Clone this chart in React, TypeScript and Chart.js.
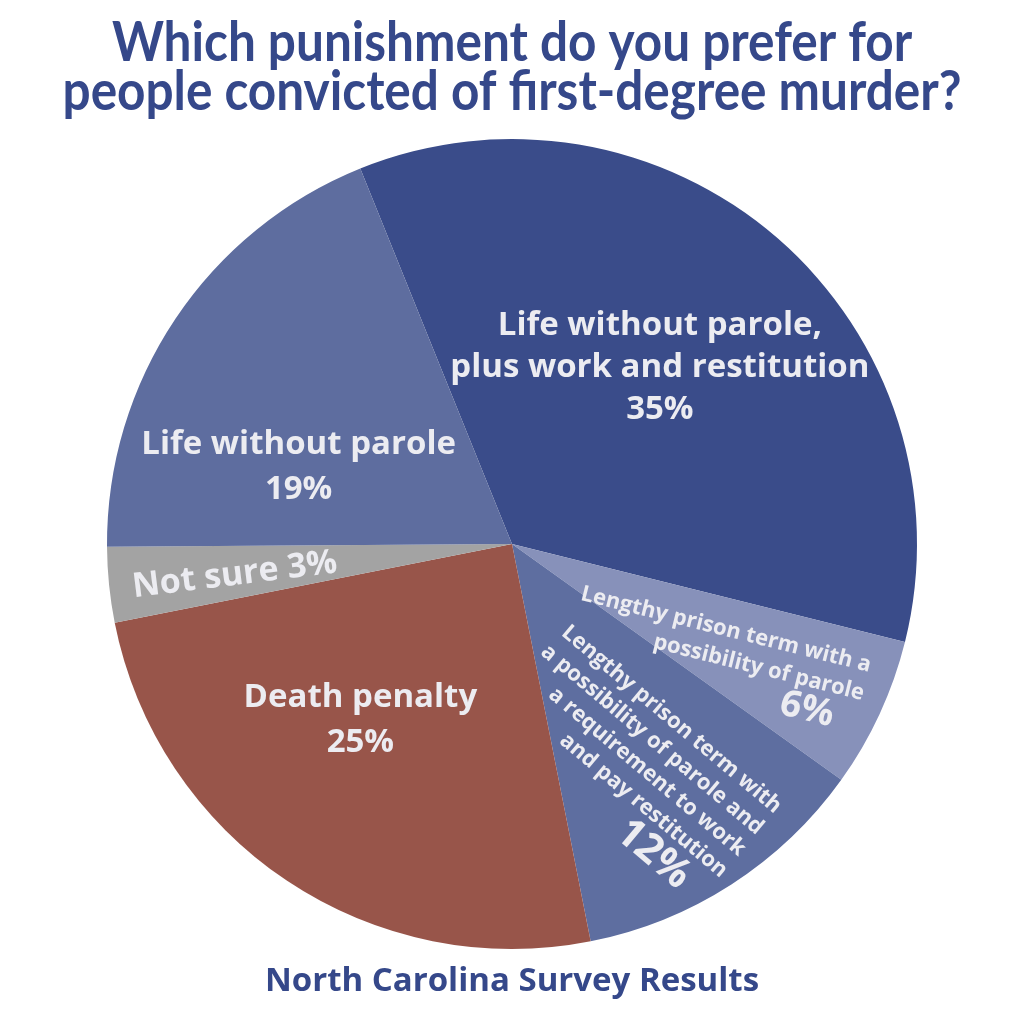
import { useEffect, useRef } from 'react';
import { Chart, registerables } from 'chart.js';

Chart.register(...registerables);

// ---- data ----
const categories = [
  'Life without parole, plus work and restitution',
  'Lengthy prison term with a possibility of parole',
  'Lengthy prison term with a possibility of parole and a requirement to work and pay restitution',
  'Death penalty',
  'Not sure',
  'Life without parole',
];
const shares = [35, 6, 12, 25, 3, 19];
const sliceColors = ['#3a4c8a', '#8791ba', '#5e6ea0', '#98554a', '#a3a3a3', '#5e6d9f'];
const sliceLabelLines = [
  ['Life without parole,', 'plus work and restitution'],
  ['Lengthy prison term with a', 'possibility of parole'],
  ['Lengthy prison term with', 'a possibility of parole and', 'a requirement to work', 'and pay restitution'],
  ['Death penalty'],
  ['Not sure'],
  ['Life without parole'],
];
const titleLines = ['Which punishment do you prefer for', 'people convicted of first-degree murder?'];
const subtitleText = 'North Carolina Survey Results';

// ---- label styling (placement relative to each slice) ----
type LabelStyle = {
  angleOffset: number; // degrees, clockwise from slice mid angle
  radiusFrac: number; // fraction of outer radius
  rotation: number; // degrees
  align: 'center' | 'right';
  size: number;
  pctSize: number;
  lineHeight: number;
  pctGap: number;
  pctInset: number;
  inline: boolean;
};
const labelStyles: LabelStyle[] = [
  { angleOffset: -1, radiusFrac: 0.568, rotation: 0, align: 'center', size: 33, pctSize: 33, lineHeight: 42, pctGap: 0, pctInset: 0, inline: false },
  { angleOffset: -1.7, radiusFrac: 0.944, rotation: 14, align: 'right', size: 22, pctSize: 37, lineHeight: 29, pctGap: 0, pctInset: 24, inline: false },
  { angleOffset: -4, radiusFrac: 0.95, rotation: 40, align: 'right', size: 22, pctSize: 41, lineHeight: 28, pctGap: 3, pctInset: 25, inline: false },
  { angleOffset: 7, radiusFrac: 0.573, rotation: 0, align: 'center', size: 33, pctSize: 33, lineHeight: 45, pctGap: 0, pctInset: 0, inline: false },
  { angleOffset: -0.6, radiusFrac: 0.689, rotation: -7, align: 'center', size: 34, pctSize: 34, lineHeight: 40, pctGap: 0, pctInset: 0, inline: true },
  { angleOffset: -14, radiusFrac: 0.56, rotation: 0, align: 'center', size: 33, pctSize: 33, lineHeight: 45, pctGap: 0, pctInset: 0, inline: false },
];

const TITLE_COLOR = '#35488a';
const LABEL_COLOR = '#ececf1';
const LABEL_FONT = "'Open Sans', 'DejaVu Sans', sans-serif";
const TITLE_FONT = "Lato, 'Open Sans', sans-serif";

const textPlugin = {
  id: 'surveyText',
  afterDraw(chart: any) {
    const ctx: CanvasRenderingContext2D = chart.ctx;
    const meta = chart.getDatasetMeta(0);
    const data = chart.data.datasets[0].data as number[];

    meta.data.forEach((arc: any, i: number) => {
      const st = labelStyles[i];
      const p = arc.getProps(['x', 'y', 'startAngle', 'endAngle', 'outerRadius'], true);
      const mid = (p.startAngle + p.endAngle) / 2 + (st.angleOffset * Math.PI) / 180;
      const r = p.outerRadius * st.radiusFrac;
      const ax = p.x + Math.cos(mid) * r;
      const ay = p.y + Math.sin(mid) * r;
      const pct = `${data[i]}%`;
      const lines = st.inline
        ? [{ text: `${sliceLabelLines[i].join(' ')} ${pct}`, size: st.size, pct: false }]
        : [
            ...sliceLabelLines[i].map((t) => ({ text: t, size: st.size, pct: false })),
            { text: pct, size: st.pctSize, pct: true },
          ];
      ctx.save();
      ctx.translate(ax, ay);
      ctx.rotate((st.rotation * Math.PI) / 180);
      ctx.fillStyle = LABEL_COLOR;
      ctx.textBaseline = 'middle';
      ctx.textAlign = st.align;
      const n = lines.length;
      lines.forEach((ln, k) => {
        let y = (k - (n - 1) / 2) * st.lineHeight;
        if (ln.pct) y += st.pctGap;
        const x = st.align === 'right' && ln.pct ? -st.pctInset : 0;
        ctx.font = `700 ${ln.size}px ${LABEL_FONT}`;
        ctx.fillText(ln.text, x, y);
      });
      ctx.restore();
    });

    // title
    ctx.save();
    ctx.fillStyle = TITLE_COLOR;
    ctx.textAlign = 'center';
    ctx.textBaseline = 'alphabetic';
    ctx.font = `700 55px ${TITLE_FONT}`;
    const titleBaselines = [61, 110];
    titleLines.forEach((t, k) => {
      ctx.save();
      ctx.translate(chart.width / 2, titleBaselines[k]);
      ctx.scale(0.9, 1);
      ctx.fillText(t, 0, 0);
      ctx.restore();
    });
    ctx.font = `700 33px ${LABEL_FONT}`;
    ctx.fillText(subtitleText, chart.width / 2, 991);
    ctx.restore();
  },
};

export default function App() {
  const ref = useRef<HTMLCanvasElement | null>(null);
  useEffect(() => {
    document.body.style.margin = '0';
    const canvas = ref.current;
    if (!canvas) return;
    const chart = new Chart(canvas, {
      type: 'pie',
      data: {
        labels: categories,
        datasets: [
          {
            data: shares,
            backgroundColor: sliceColors,
            borderWidth: 0,
          },
        ],
      },
      options: {
        responsive: false,
        animation: false,
        devicePixelRatio: 1,
        rotation: -22,
        layout: { padding: { top: 139, bottom: 75, left: 0, right: 0 } },
        plugins: {
          legend: { display: false },
          tooltip: { enabled: false },
          title: { display: false },
        },
      },
      plugins: [textPlugin],
    });
    return () => chart.destroy();
  }, []);
  return (
    <div style={{ position: 'absolute', left: 0, top: 0, width: 1024, height: 1024, background: '#ffffff' }}>
      <canvas ref={ref} width={1024} height={1024} style={{ width: 1024, height: 1024, display: 'block' }} />
    </div>
  );
}
